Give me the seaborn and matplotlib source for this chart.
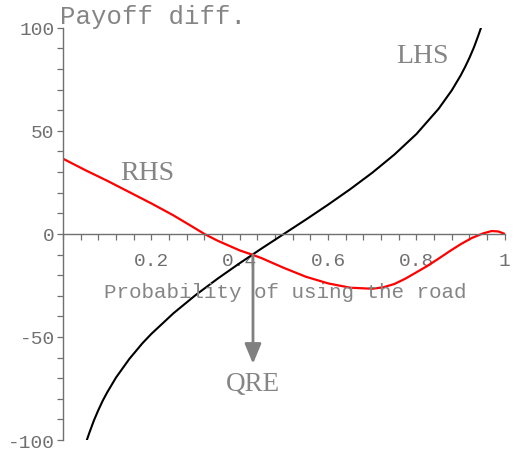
import matplotlib
matplotlib.use("Agg")
import matplotlib.pyplot as plt
import seaborn as sns
import pandas as pd
from matplotlib.ticker import MultipleLocator, FixedLocator

# Left-hand side: payoff difference as a function of the choice probability
lhs_p = [0.054, 0.06, 0.07, 0.08, 0.09, 0.10, 0.12, 0.15, 0.18, 0.20, 0.25, 0.30,
         0.35, 0.40, 0.45, 0.50, 0.55, 0.60, 0.65, 0.70, 0.75, 0.80, 0.85, 0.88,
         0.90, 0.91, 0.92, 0.93, 0.94, 0.946]
lhs_v = [-100.0, -96.3, -90.5, -85.5, -80.9, -76.9, -69.7, -60.7, -53.0, -48.5,
         -38.5, -29.7, -21.7, -14.2, -7.0, 0.0, 7.0, 14.2, 21.7, 29.7, 38.5, 48.5,
         60.7, 69.7, 76.9, 81.0, 85.5, 90.5, 96.3, 100.0]

# Right-hand side: expected payoff difference
rhs_p = [0.00, 0.05, 0.10, 0.15, 0.20, 0.25, 0.30, 0.32, 0.35, 0.40, 0.43, 0.45,
         0.50, 0.55, 0.60, 0.65, 0.70, 0.725, 0.75, 0.775, 0.80, 0.825, 0.85,
         0.875, 0.90, 0.925, 0.95, 0.97, 0.985, 1.00]
rhs_v = [36.5, 31.0, 25.8, 20.3, 14.8, 9.0, 2.6, 0.0, -3.3, -8.0, -10.2, -11.8,
         -16.5, -20.8, -24.0, -26.1, -26.6, -25.9, -24.3, -21.7, -18.6, -15.5,
         -12.0, -8.4, -5.0, -2.0, 0.2, 1.4, 1.2, 0.0]

# Intersection of the two curves (quantal response equilibrium)
qre_p = 0.43
qre_v = -10.2
qre_arrow_end = -63

x_ticks = [0.2, 0.4, 0.6, 0.8, 1.0]
x_tick_labels = ["0.2", "0.4", "0.6", "0.8", "1"]
y_ticks = [-100, -50, 0, 50, 100]
y_tick_labels = ["-100", "-50", "0", "50", "100"]

sns.set_theme(style="white")
plt.rcParams["font.family"] = ["Liberation Mono", "DejaVu Sans"]

fig = plt.figure(figsize=(5.18, 4.60), dpi=100)
ax = fig.add_axes([0.1216, 0.0413, 0.853, 0.896])

lhs = pd.DataFrame({"p": lhs_p, "v": lhs_v})
rhs = pd.DataFrame({"p": rhs_p, "v": rhs_v})
sns.lineplot(data=lhs, x="p", y="v", color="black", lw=1.5, ax=ax,
             estimator=None, sort=False)
sns.lineplot(data=rhs, x="p", y="v", color="#ff0000", lw=1.6, ax=ax,
             estimator=None, sort=False)

ax.set_xlim(0, 1.0)
ax.set_ylim(-100, 100)
ax.set_xlabel("")
ax.set_ylabel("")

axis_grey = "#707070"
text_grey = "#858585"
for side in ("top", "right"):
    ax.spines[side].set_visible(False)
ax.spines["bottom"].set_position(("data", 0))
ax.spines["left"].set_position(("data", 0))
for side in ("bottom", "left"):
    ax.spines[side].set_color(axis_grey)
    ax.spines[side].set_linewidth(1.0)

ax.xaxis.set_major_locator(FixedLocator(x_ticks))
ax.set_xticklabels(x_tick_labels)
ax.xaxis.set_minor_locator(MultipleLocator(0.04))
ax.yaxis.set_major_locator(FixedLocator(y_ticks))
ax.set_yticklabels(y_tick_labels)
ax.yaxis.set_minor_locator(MultipleLocator(10))

ax.tick_params(axis="x", which="both", direction="out", length=4, width=0.9,
               color=axis_grey, labelsize=14, labelcolor="#707070", pad=9,
               bottom=True)
ax.tick_params(axis="y", which="both", direction="out", length=4, width=0.9,
               color=axis_grey, labelsize=14, labelcolor="#707070", pad=2,
               left=True)

ax.text(-0.007, 100, "Payoff diff.", fontsize=18.5, color=text_grey,
        ha="left", va="bottom", clip_on=False)
ax.text(0.502, -28, "Probability of using the road", fontsize=15,
        color=text_grey, ha="center", va="center")

serif = ["Liberation Serif", "DejaVu Serif"]
ax.text(0.814, 86.5, "LHS", fontsize=20, color=text_grey, family=serif,
        ha="center", va="center")
ax.text(0.19, 30, "RHS", fontsize=20, color=text_grey, family=serif,
        ha="center", va="center")
ax.text(qre_p, -72.5, "QRE", fontsize=19.5, color=text_grey, family=serif,
        ha="center", va="center")

ax.annotate("", xy=(qre_p, qre_arrow_end), xytext=(qre_p, qre_v),
            arrowprops=dict(arrowstyle="-|>,head_length=1.2,head_width=0.5",
                            mutation_scale=10, color="#808080", lw=2,
                            shrinkA=0, shrinkB=0))

fig.savefig("out.png", dpi=100)
